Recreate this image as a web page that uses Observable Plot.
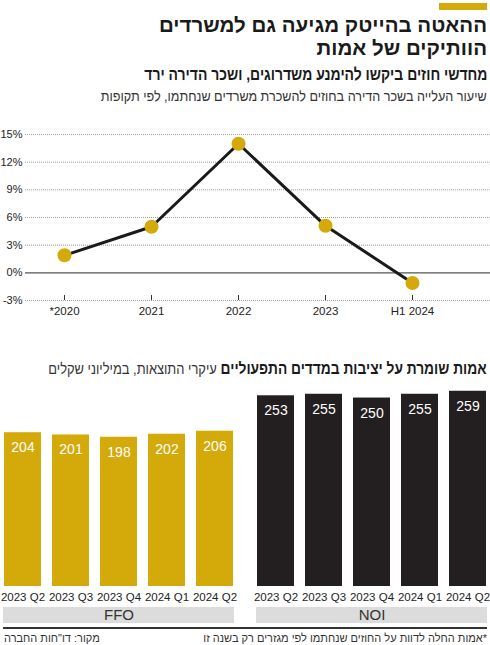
<!DOCTYPE html>
<html lang="he">
<head>
<meta charset="utf-8">
<script src="https://cdn.jsdelivr.net/npm/d3@7"></script>
<script src="https://cdn.jsdelivr.net/npm/@observablehq/plot@0.6"></script>
<style>
  html, body { margin: 0; padding: 0; background: #fff; }
  body { width: 490px; height: 645px; overflow: hidden; font-family: "Liberation Sans Narrow", "Liberation Sans", "DejaVu Sans Condensed", sans-serif; color: #1a1a1a; }
  #wrap { position: relative; width: 490px; height: 645px; }
  .abs { position: absolute; }
  .rtl { direction: rtl; text-align: right; right: 3px; white-space: nowrap; transform-origin: right center; }
  #goldbar { left: 439px; top: 3px; width: 48px; height: 7px; background: #d4a90a; }
  .title { font-size: 20.5px; font-weight: bold; line-height: 20px; height: 20px; transform: scaleX(1.0); }
  #title1 { top: 14.5px; }
  #title2 { top: 38.3px; }
  #sub1 { top: 65px; font-size: 17px; font-weight: bold; line-height: 20px; transform: scaleX(0.82); }
  #sub2 { top: 87px; font-size: 14px; line-height: 18px; color: #333; transform: scaleX(0.9); }
  #line { top: 120px; left: 0; }
  #sec2 { top: 359px; font-size: 16px; line-height: 20px; transform: scaleX(0.86); }
  #sec2 b { font-weight: bold; }
  #sec2 span { font-size: 15px; color: #333; }
  #bars { top: 385px; left: 0; }
  #boxes { top: 607px; left: 0; }
  #rule { left: 3px; top: 627px; width: 484px; height: 2px; background: #333; }
  #foot { top: 631px; font-size: 11px; line-height: 14px; color: #333; }
  #src { left: 4px; top: 631px; font-size: 11px; line-height: 14px; direction: rtl; color: #333; white-space: nowrap; }
</style>
</head>
<body>
<div id="wrap">
  <div id="goldbar" class="abs"></div>
  <div id="title1" class="abs rtl title">ההאטה בהייטק מגיעה גם למשרדים</div>
  <div id="title2" class="abs rtl title">הוותיקים של אמות</div>
  <div id="sub1" class="abs rtl">מחדשי חוזים ביקשו להימנע משדרוגים, ושכר הדירה ירד</div>
  <div id="sub2" class="abs rtl">שיעור העלייה בשכר הדירה בחוזים להשכרת משרדים שנחתמו, לפי תקופות</div>
  <div id="line" class="abs"></div>
  <div id="sec2" class="abs rtl"><b>אמות שומרת על יציבות במדדים התפעוליים</b> <span>עיקרי התוצאות, במיליוני שקלים</span></div>
  <div id="bars" class="abs"></div>
  <div id="boxes" class="abs"></div>
  <div id="rule" class="abs"></div>
  <div id="foot" class="abs rtl">*אמות החלה לדוות על החוזים שנחתמו לפי מגזרים רק בשנה זו</div>
  <div id="src" class="abs">מקור: דו"חות החברה</div>
</div>
<script>
// ---- data ----
const years = ["*2020", "2021", "2022", "2023", "H1 2024"];
const rentGrowth = [1.9, 5.0, 14.0, 5.1, -1.1];
const yTicks = [-3, 0, 3, 6, 9, 12, 15];

const panels = ["FFO", "NOI"];
const quarters = ["2023 Q2", "2023 Q3", "2023 Q4", "2024 Q1", "2024 Q2"];
const ffo = [204, 201, 198, 202, 206];
const noi = [253, 255, 250, 255, 259];

const GOLD = "#d4a90a";
const DARK = "#231f20";
const FONT = '"Liberation Sans", "DejaVu Sans", sans-serif';

// ---- line chart ----
const lineData = years.map((y, i) => ({year: y, value: rentGrowth[i]}));
const linePlot = Plot.plot({
  width: 490, height: 200,
  marginTop: 14, marginBottom: 20, marginLeft: 25, marginRight: 0,
  style: {fontFamily: FONT, fontSize: "11px", color: "#222", background: "transparent"},
  x: {type: "point", domain: years, range: [64, 412], padding: 0, label: null},
  y: {domain: [-3, 15], label: null},
  marks: [
    Plot.ruleY(yTicks.filter(d => d !== 0), {stroke: "#9a9a9a", strokeDasharray: "1,1", strokeWidth: 1}),
    Plot.ruleY([0], {stroke: "#555", strokeWidth: 1.2}),
    Plot.axisY({ticks: yTicks, tickSize: 0, tickPadding: 3, tickFormat: d => d + "%", label: null, fontSize: 11}),
    Plot.axisX({tickSize: -5, tickPadding: 11, label: null, fontSize: 11.5, stroke: "#333"}),
    Plot.line(lineData, {x: "year", y: "value", stroke: "#1a1a1a", strokeWidth: 3}),
    Plot.dot(lineData, {x: "year", y: "value", r: 7, fill: GOLD, stroke: null})
  ]
});
document.getElementById("line").append(linePlot);

// ---- bar charts ----
const rows = [];
quarters.forEach((q, i) => rows.push({panel: "FFO", quarter: q, value: ffo[i]}));
quarters.forEach((q, i) => rows.push({panel: "NOI", quarter: q, value: noi[i]}));

const barPlot = Plot.plot({
  width: 490, height: 221,
  marginTop: 5, marginBottom: 20, marginLeft: 3, marginRight: 2,
  style: {fontFamily: FONT, fontSize: "11px", color: "#222", background: "transparent"},
  fx: {domain: panels, paddingInner: 0.0857, paddingOuter: 0, axis: null, label: null},
  x: {domain: quarters, paddingInner: 0.22, paddingOuter: 0, label: null},
  y: {domain: [0, 260], axis: null},
  color: {domain: panels, range: [GOLD, DARK]},
  marks: [
    Plot.barY(rows, {fx: "panel", x: "quarter", y: "value", fill: "panel"}),
    Plot.text(rows, {fx: "panel", x: "quarter", y: "value", text: d => String(d.value), fill: "white", dy: 15, fontSize: 14}),
    Plot.axisX({tickSize: 0, tickPadding: 6, fontSize: 11.5, label: null})
  ]
});
document.getElementById("bars").append(barPlot);

const boxPlot = Plot.plot({
  width: 490, height: 16,
  marginTop: 0, marginBottom: 0, marginLeft: 3, marginRight: 2,
  style: {fontFamily: FONT, fontSize: "15px", color: "#333", background: "transparent"},
  x: {domain: panels, paddingInner: 0.0857, paddingOuter: 0, axis: null},
  marks: [
    Plot.cell(panels, {x: d => d, fill: "#dcdcdc"}),
    Plot.text(panels, {x: d => d, text: d => d, fontSize: 15, fill: "#333"})
  ]
});
document.getElementById("boxes").append(boxPlot);
</script>
</body>
</html>
